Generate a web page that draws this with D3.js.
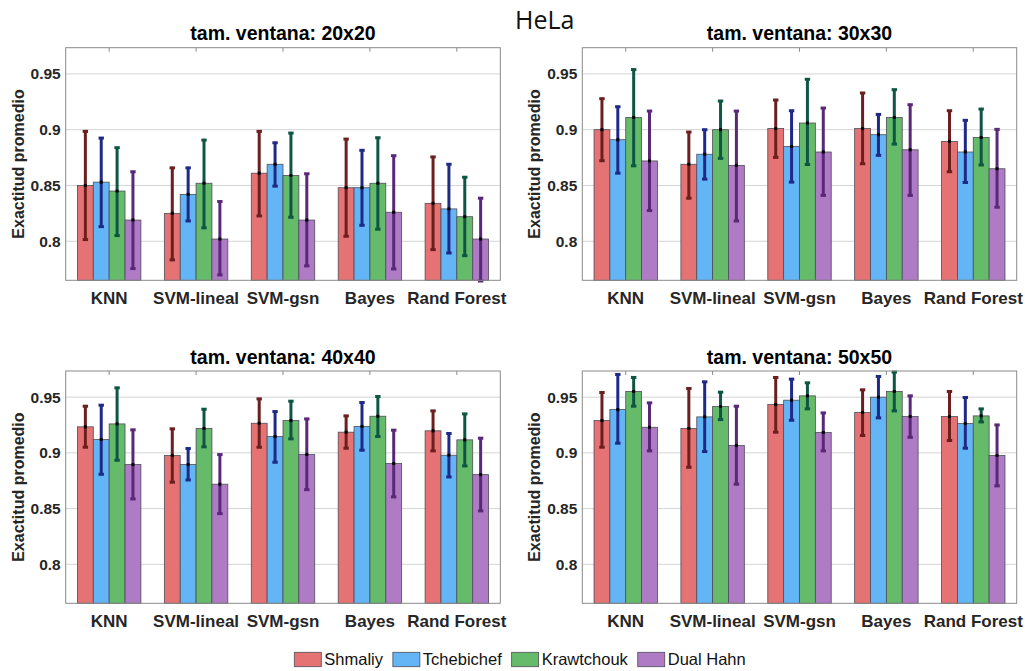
<!DOCTYPE html>
<html>
<head>
<meta charset="utf-8">
<script src="https://cdn.jsdelivr.net/npm/d3@7"></script>
<style>
  html, body { margin: 0; padding: 0; background: #ffffff; }
  svg { display: block; }
</style>
</head>
<body>
<svg id="chart" width="1025" height="671"></svg>
<script>
const categories = ["KNN", "SVM-lineal", "SVM-gsn", "Bayes", "Rand Forest"];
const seriesNames = ["Shmaliy", "Tchebichef", "Krawtchouk", "Dual Hahn"];
const panelTitles = ["tam. ventana: 20x20", "tam. ventana: 30x30", "tam. ventana: 40x40", "tam. ventana: 50x50"];
const yTicks = [0.8, 0.85, 0.9, 0.95];
const yTickLabels = ["0.8", "0.85", "0.9", "0.95"];

// values per category: [Shmaliy, Tchebichef, Krawtchouk, Dual Hahn]
const mean20 = [[0.850,0.853,0.845,0.819],[0.825,0.842,0.852,0.802],[0.861,0.869,0.859,0.819],[0.848,0.848,0.852,0.826],[0.834,0.829,0.822,0.802]];
const hi20   = [[0.8985,0.8925,0.8839,0.8623],[0.8658,0.8658,0.8907,0.8356],[0.8985,0.8883,0.8970,0.8605],[0.8916,0.8815,0.8928,0.8767],[0.8756,0.8690,0.8574,0.8386]];
const lo20   = [[0.8015,0.8131,0.8051,0.7755],[0.7833,0.8182,0.8120,0.7698],[0.8227,0.8494,0.8215,0.7779],[0.8045,0.8143,0.8108,0.7752],[0.7925,0.7895,0.7871,0.7644]];

const mean30 = [[0.900,0.891,0.911,0.872],[0.869,0.878,0.900,0.868],[0.901,0.885,0.906,0.880],[0.901,0.8955,0.911,0.882],[0.8895,0.880,0.893,0.865]];
const hi30   = [[0.9278,0.9206,0.9539,0.9167],[0.8979,0.9000,0.9257,0.9167],[0.9266,0.9170,0.9452,0.9194],[0.9329,0.9137,0.9359,0.9224],[0.9170,0.9084,0.9185,0.9003]];
const lo30   = [[0.8722,0.8610,0.8676,0.8275],[0.8386,0.8557,0.8743,0.8182],[0.8752,0.8530,0.8688,0.8411],[0.8695,0.8770,0.8871,0.8411],[0.8623,0.8527,0.8684,0.8305]];

const mean40 = [[0.9234,0.912,0.926,0.8895],[0.8976,0.8895,0.9219,0.8719],[0.9266,0.9147,0.929,0.8985],[0.9186,0.9237,0.9329,0.8904],[0.9198,0.8979,0.9117,0.8805]];
const hi40   = [[0.9419,0.9428,0.9584,0.9207],[0.9216,0.9039,0.9392,0.8985],[0.9485,0.9371,0.9464,0.9305],[0.9332,0.9452,0.9506,0.9204],[0.9377,0.9174,0.9350,0.9132]];
const lo40   = [[0.9051,0.8808,0.8934,0.8587],[0.8737,0.8757,0.9054,0.8455],[0.9051,0.8916,0.9126,0.8670],[0.9042,0.9024,0.9147,0.8605],[0.9018,0.8784,0.8883,0.8479]];

const mean50 = [[0.929,0.9389,0.9551,0.923],[0.9219,0.9323,0.9416,0.9066],[0.9434,0.9473,0.9512,0.9183],[0.9362,0.950,0.9551,0.9326],[0.9326,0.9263,0.9332,0.8976]];
const hi50   = [[0.9542,0.9704,0.9677,0.9449],[0.9578,0.9638,0.9545,0.9419],[0.9677,0.9662,0.9629,0.9359],[0.9566,0.9686,0.9725,0.9512],[0.9551,0.9497,0.9395,0.9251]];
const lo50   = [[0.9051,0.9087,0.9419,0.9018],[0.8871,0.9012,0.9299,0.8719],[0.9186,0.9293,0.9395,0.9018],[0.9156,0.9314,0.9377,0.9140],[0.9111,0.9042,0.9278,0.8704]];

const fillColors = ["#e57373", "#64b5f6", "#66bb6a", "#ae7bc4"];
const errColors  = ["#6b1f1f", "#1f2a86", "#0e5644", "#5a2878"];

const panels = [
  { title: panelTitles[0], mean: mean20, hi: hi20, lo: lo20, x0: 65.7,  x1: 500.3,  y0: 47.7, y1: 280.3 },
  { title: panelTitles[1], mean: mean30, hi: hi30, lo: lo30, x0: 582.3, x1: 1016.7, y0: 47.7, y1: 280.3 },
  { title: panelTitles[2], mean: mean40, hi: hi40, lo: lo40, x0: 65.7,  x1: 500.3,  y0: 371,  y1: 603.3 },
  { title: panelTitles[3], mean: mean50, hi: hi50, lo: lo50, x0: 582.3, x1: 1016.7, y0: 371,  y1: 603.3 }
];

const svg = d3.select("#chart");
const font = "'Liberation Sans', Arial, Helvetica, sans-serif";
const textCol = "#262626";

svg.append("text")
  .attr("x", 515).attr("y", 28.5)
  .attr("font-family", "'Open Sans', sans-serif")
  .attr("font-size", 25)
  .attr("fill", "#111")
  .text("HeLa");

panels.forEach(p => {
  const g = svg.append("g");
  const x = d3.scaleBand().domain(categories).range([p.x0, p.x1]).paddingInner(0.27).paddingOuter(0.135);
  const xs = d3.scaleBand().domain(seriesNames).range([0, x.bandwidth()]);
  const y = d3.scaleLinear().domain([0.765, 0.9735]).range([p.y1, p.y0]);

  // grid
  g.append("g").selectAll("line").data(yTicks).join("line")
    .attr("x1", p.x0).attr("x2", p.x1)
    .attr("y1", d => y(d)).attr("y2", d => y(d))
    .attr("stroke", "#d4d4d4").attr("stroke-width", 1);

  // top tick marks
  g.append("g").selectAll("line").data(categories).join("line")
    .attr("x1", d => x(d) + x.bandwidth()/2).attr("x2", d => x(d) + x.bandwidth()/2)
    .attr("y1", p.y0).attr("y2", p.y0 + 4)
    .attr("stroke", "#8a8a8a").attr("stroke-width", 1);

  // bars
  categories.forEach((c, ci) => {
    const cg = g.append("g");
    seriesNames.forEach((s, si) => {
      cg.append("rect")
        .attr("x", x(c) + xs(s))
        .attr("y", y(p.mean[ci][si]))
        .attr("width", xs.bandwidth())
        .attr("height", p.y1 - y(p.mean[ci][si]))
        .attr("fill", fillColors[si])
        .attr("stroke", "#4d4d5a").attr("stroke-width", 0.8);
    });
  });

  // error bars
  categories.forEach((c, ci) => {
    seriesNames.forEach((s, si) => {
      const cx = x(c) + xs(s) + xs.bandwidth()/2;
      const eg = g.append("g");
      eg.append("line")
        .attr("x1", cx).attr("x2", cx)
        .attr("y1", y(p.hi[ci][si])).attr("y2", y(p.lo[ci][si]))
        .attr("stroke", errColors[si]).attr("stroke-width", 3);
      [p.hi[ci][si], p.lo[ci][si]].forEach(v => {
        eg.append("line")
          .attr("x1", cx - 2.7).attr("x2", cx + 2.7)
          .attr("y1", y(v)).attr("y2", y(v))
          .attr("stroke", errColors[si]).attr("stroke-width", 3);
      });
      eg.append("rect")
        .attr("x", cx - 1.5).attr("y", y(p.mean[ci][si]) - 1.5)
        .attr("width", 3).attr("height", 3)
        .attr("fill", "#000");
    });
  });

  // frame
  g.append("rect")
    .attr("x", p.x0).attr("y", p.y0)
    .attr("width", p.x1 - p.x0).attr("height", p.y1 - p.y0)
    .attr("fill", "none").attr("stroke", "#8a8a8a").attr("stroke-width", 1);

  // y axis labels
  const yAxis = d3.axisLeft(y).tickValues(yTicks).tickSize(0).tickPadding(5)
    .tickFormat((d, i) => yTickLabels[i]);
  const ya = g.append("g").attr("transform", `translate(${p.x0},0)`).call(yAxis);
  ya.select(".domain").remove();
  ya.selectAll("text")
    .attr("font-family", font).attr("font-size", 15.5).attr("font-weight", "bold")
    .attr("fill", textCol);

  // x axis labels
  const xAxis = d3.axisBottom(x).tickSize(0).tickPadding(0);
  const xa = g.append("g").attr("transform", `translate(0,${p.y1})`).call(xAxis);
  xa.select(".domain").remove();
  xa.selectAll("text")
    .attr("dy", null).attr("y", 23.7)
    .attr("font-family", font).attr("font-size", 17).attr("font-weight", "bold")
    .attr("fill", textCol);

  // title
  g.append("text")
    .attr("x", (p.x0 + p.x1)/2).attr("y", p.y0 - 7.5)
    .attr("text-anchor", "middle")
    .attr("font-family", font).attr("font-size", 19.5).attr("font-weight", "bold")
    .attr("fill", "#000")
    .text(p.title);

  // y label
  g.append("text")
    .attr("transform", `translate(${p.x0 - 42},${(p.y0 + p.y1)/2}) rotate(-90)`)
    .attr("text-anchor", "middle")
    .attr("font-family", font).attr("font-size", 16).attr("font-weight", "bold")
    .attr("fill", textCol)
    .text("Exactitud promedio");
});

// legend
const lg = svg.append("g");
const legStart = 294.3, legEnd = 745.7;
const itemGroups = [];
let sumW = 0;
seriesNames.forEach((s, i) => {
  const it = lg.append("g");
  it.append("rect").attr("x", 0).attr("y", 652.3).attr("width", 27).attr("height", 14.4)
    .attr("fill", fillColors[i]).attr("stroke", "#4d4d5a").attr("stroke-width", 0.8);
  const t = it.append("text").attr("x", 30).attr("y", 665)
    .attr("font-family", font).attr("font-size", 16.5).attr("fill", "#111").text(s);
  const w = 30 + t.node().getComputedTextLength();
  itemGroups.push({ it, w });
  sumW += w;
});
const gap = ((legEnd - legStart) - sumW) / (seriesNames.length - 1);
let lx = legStart;
itemGroups.forEach(o => {
  o.it.attr("transform", `translate(${lx},0)`);
  lx += o.w + gap;
});
</script>
</body>
</html>
